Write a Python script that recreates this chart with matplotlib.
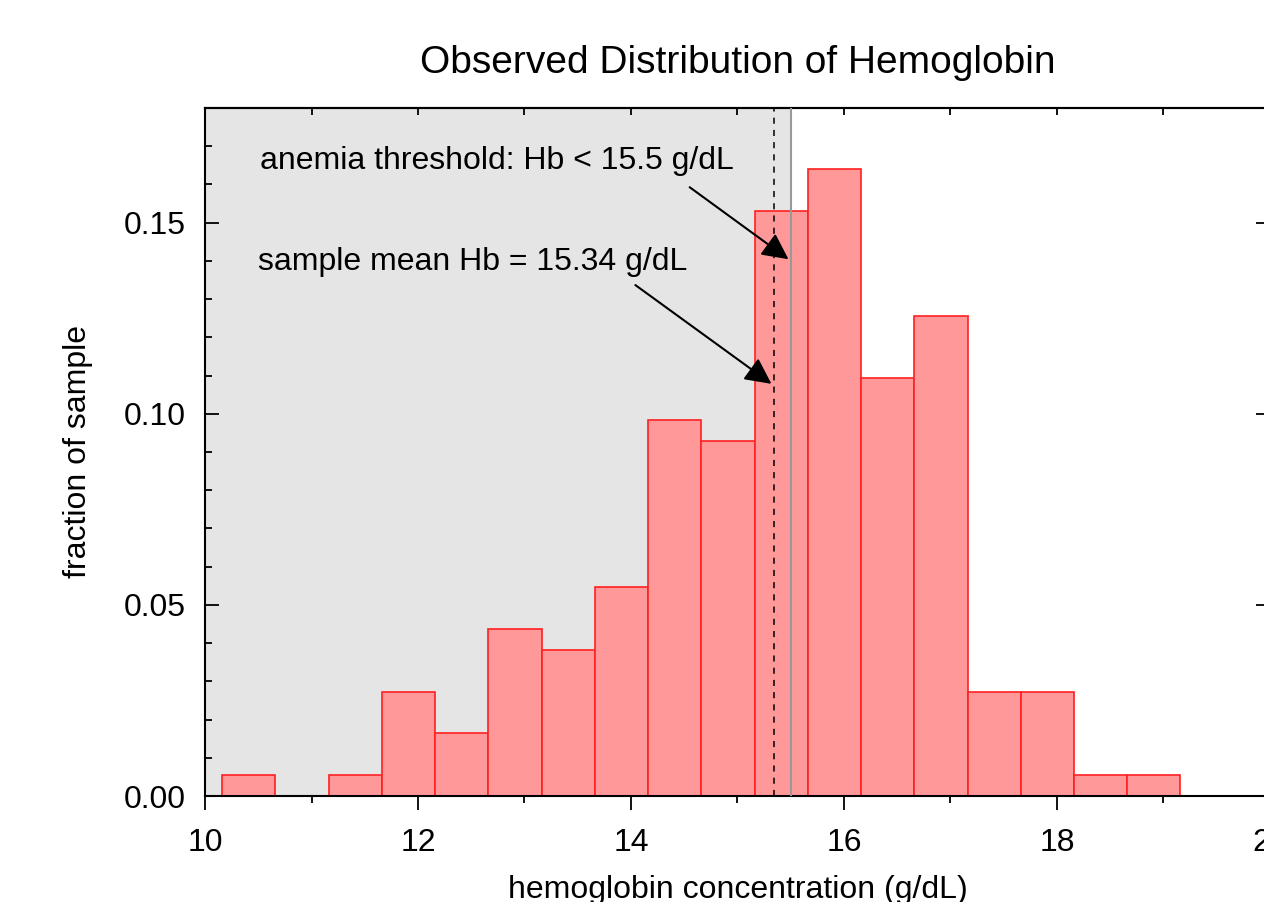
import numpy as np
from matplotlib import pyplot as plt
from matplotlib.ticker import MultipleLocator

plt.rcParams['font.family'] = ['Liberation Sans', 'DejaVu Sans']

# histogram bins (left edges) and fraction of sample in each
bin_left = [10.16, 10.66, 11.16, 11.66, 12.16, 12.66, 13.16, 13.66, 14.16,
            14.66, 15.16, 15.66, 16.16, 16.66, 17.16, 17.66, 18.16, 18.66]
counts = [1, 0, 1, 5, 3, 8, 7, 10, 18, 17, 28, 30, 20, 23, 5, 5, 1, 1]
n_total = 183
fractions = [c / n_total for c in counts]
bin_width = 0.5

threshold = 15.5
sample_mean = 15.34

fig = plt.figure(figsize=(12.64, 9.02), dpi=100)
ax = fig.add_axes([0.1622, 0.1175, 0.8425, 0.7628])

ax.axvspan(10, threshold, color='#e5e5e5', zorder=0, lw=0)
ax.bar(bin_left, fractions, width=bin_width, align='edge',
       color='#ff9999', edgecolor='#ff2020', linewidth=1.2, zorder=2)
ax.axvline(threshold, color='#999999', lw=1.5, zorder=3)
ax.axvline(sample_mean, color='black', lw=1.1, dashes=(4, 4), zorder=3)

ax.text(10.52, 0.1662, 'anemia threshold: Hb < 15.5 g/dL', fontsize=23,
        va='center', ha='left', zorder=5)
ax.annotate('', xy=(threshold, 0.140), xytext=(14.53, 0.1597),
            arrowprops=dict(arrowstyle='-|>', mutation_scale=40, color='black', lw=1.5),
            zorder=5)
ax.text(10.50, 0.1396, 'sample mean Hb = 15.34 g/dL', fontsize=23,
        va='center', ha='left', zorder=5)
ax.annotate('', xy=(sample_mean, 0.1074), xytext=(14.02, 0.1341),
            arrowprops=dict(arrowstyle='-|>', mutation_scale=40, color='black', lw=1.5),
            zorder=5)

ax.set_xlim(10, 20)
ax.set_ylim(0, 0.18)
ax.xaxis.set_major_locator(MultipleLocator(2))
ax.xaxis.set_minor_locator(MultipleLocator(1))
ax.yaxis.set_major_locator(MultipleLocator(0.05))
ax.yaxis.set_minor_locator(MultipleLocator(0.01))
ax.yaxis.set_major_formatter(plt.FormatStrFormatter('%.2f'))

ax.tick_params(axis='x', which='both', direction='out', top=False, labelsize=23, pad=13)
ax.tick_params(axis='x', which='major', length=10, width=1.3)
ax.tick_params(axis='x', which='minor', length=5, width=1.3)
ax.tick_params(axis='y', which='both', direction='in', labelsize=23, pad=14)
ax.tick_params(axis='y', which='major', length=10, width=1.3, right=True)
ax.tick_params(axis='y', which='minor', length=5, width=1.3, right=False)

# top ticks point inward
top = ax.secondary_xaxis('top')
top.xaxis.set_major_locator(MultipleLocator(1))
top.tick_params(direction='in', length=5, width=1.3, labeltop=False)
top.spines['top'].set_linewidth(1.5)

for s in ax.spines.values():
    s.set_linewidth(1.5)

ax.set_title('Observed Distribution of Hemoglobin', fontsize=28, pad=25)
ax.set_xlabel('hemoglobin concentration (g/dL)', fontsize=23, labelpad=12)
ax.set_ylabel('fraction of sample', fontsize=23, labelpad=22)

fig.savefig('out.png', dpi=100)
